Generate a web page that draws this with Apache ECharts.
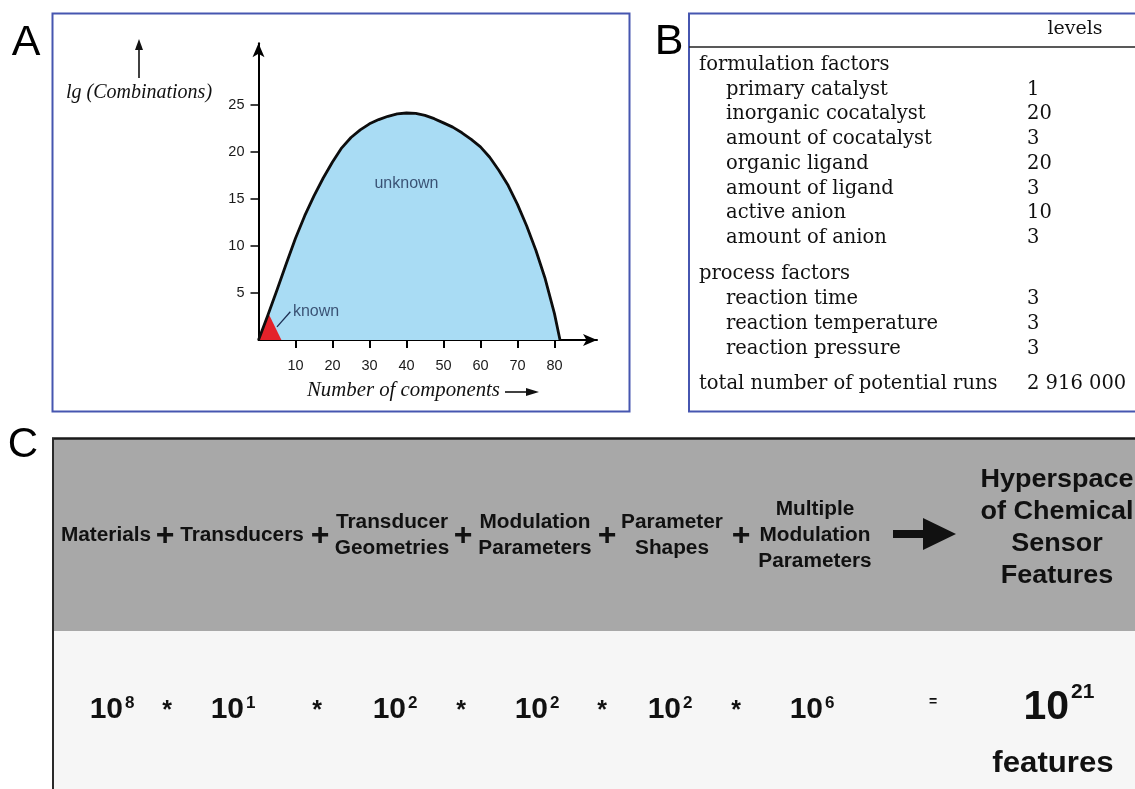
<!DOCTYPE html>
<html>
<head>
<meta charset="utf-8">
<title>Combinatorial search spaces</title>
<script src="https://cdn.jsdelivr.net/npm/echarts@6/dist/echarts.min.js"></script>
<style>
  html, body { margin: 0; padding: 0; background: #ffffff; }
  #main { width: 1135px; height: 789px; }
</style>
</head>
<body>
<div id="main"></div>
<script>
// ---- Panel A: lg(number of combinations) against number of components ----
const componentCounts = [0, 2.5, 5, 7.5, 10, 12.5, 15, 17.5, 20, 22.5, 25, 27.5, 30, 32.5, 35, 37.5, 40,
  42.5, 45, 47.5, 50, 52.5, 55, 57.5, 60, 62.5, 65, 67.5, 70, 72.5, 75, 77.5, 80, 81.5];
const lgCombinations  = [0, 2.6, 5.3, 8.1, 10.8, 13.2, 15.3, 17.2, 18.9, 20.4, 21.5, 22.3, 22.95, 23.4, 23.75, 24.0, 24.1,
  24.05, 23.85, 23.5, 23.05, 22.6, 22.0, 21.3, 20.5, 19.4, 18.0, 16.4, 14.4, 12.1, 9.5, 6.5, 2.8, 0];
const knownCounts = [0, 2.6, 6.2];
const knownLg     = [0, 2.9, 0];
const xTickValues = [10, 20, 30, 40, 50, 60, 70, 80];
const yTickValues = [5, 10, 15, 20, 25];
const regionNames = ['unknown', 'known'];
const regionAt    = [[40, 16.6], [9.3, 3.0]];
const knownLeader = [[5.0, 1.4], [8.6, 3.0]];

// ---- Panel B: factors of the screening design and their levels ----
const formulationFactors = ['primary catalyst', 'inorganic cocatalyst', 'amount of cocatalyst',
  'organic ligand', 'amount of ligand', 'active anion', 'amount of anion'];
const formulationLevels = [1, 20, 3, 20, 3, 10, 3];
const processFactors = ['reaction time', 'reaction temperature', 'reaction pressure'];
const processLevels  = [3, 3, 3];

// ---- Panel C: sources of sensor features and their orders of magnitude ----
const featureSources = [['Materials'], ['Transducers'], ['Transducer', 'Geometries'],
  ['Modulation', 'Parameters'], ['Parameter', 'Shapes'], ['Multiple', 'Modulation', 'Parameters']];
const sourceExponents = [8, 1, 2, 2, 2, 6];
const resultLines = ['Hyperspace', 'of Chemical', 'Sensor', 'Features'];
const resultUnit = 'features';

// ---------------------------------------------------------------------------
const SANS = '"Liberation Sans", Arial, Helvetica, sans-serif';
const SERIF = '"DejaVu Serif", "Liberation Serif", serif';
const TIMES = '"Liberation Serif", "Times New Roman", serif';
const BLUE_FRAME = '#4656b0';

const unknownData = componentCounts.map((c, i) => [c, lgCombinations[i]]);
const knownData = knownCounts.map((c, i) => [c, knownLg[i]]);

function txt(x, y, text, o) {
  o = o || {};
  return {
    type: 'text', x: x, y: y, z: o.z || 10,
    scaleX: o.scaleX || 1, scaleY: 1,
    style: {
      text: String(text),
      fill: o.fill || '#111',
      fontSize: o.size || 14,
      fontFamily: o.family || SANS,
      fontWeight: o.weight || 'normal',
      fontStyle: o.style || 'normal',
      align: o.align || 'left', textAlign: o.align || 'left',
      verticalAlign: 'middle', textVerticalAlign: 'middle',
      width: o.width, overflow: o.overflow, ellipsis: o.ellipsis
    }
  };
}
function seg(x1, y1, x2, y2, w, color, z) {
  return { type: 'line', z: z || 5, shape: { x1: x1, y1: y1, x2: x2, y2: y2 },
    style: { stroke: color || '#000', lineWidth: w || 1 } };
}
function poly(points, color, z) {
  return { type: 'polygon', z: z || 6, shape: { points: points }, style: { fill: color || '#000' } };
}
function box(x, y, w, h, style, z) {
  return { type: 'rect', z: z || 1, shape: { x: x, y: y, width: w, height: h }, style: style };
}

const g = [];

// Frames and panel letters
g.push(box(52.5, 13.5, 577, 398, { fill: 'none', stroke: BLUE_FRAME, lineWidth: 2 }, 2));
g.push(box(689, 13.5, 470, 398, { fill: 'none', stroke: BLUE_FRAME, lineWidth: 2 }, 2));
g.push(txt(26, 43, 'A', { size: 43, align: 'center', fill: '#000' }));
g.push(txt(669, 42, 'B', { size: 43, align: 'center', fill: '#000' }));
g.push(txt(23, 445, 'C', { size: 42, align: 'center', fill: '#000' }));

// Panel A axis titles with their arrows
g.push(txt(139, 93, 'lg (Combinations)', { size: 20, family: TIMES, style: 'italic', align: 'center', fill: '#111' }));
g.push(seg(139, 78, 139, 48, 1.6, '#111'));
g.push(poly([[135, 50], [139, 39], [143, 50]], '#111'));
g.push(txt(307, 391, 'Number of components', { size: 20.8, family: TIMES, style: 'italic', fill: '#111' }));
g.push(seg(505, 392, 528, 392, 1.6, '#111'));
g.push(poly([[526, 388], [539, 392], [526, 396]], '#111'));

// Panel B table
const FS_B = 19.5;
const rowH = 24.7;
g.push(txt(1075, 29, 'levels', { size: 19, family: SERIF, align: 'center', fill: '#111' }));
g.push(seg(689, 47, 1135, 47, 1.6, '#222'));
let rowY = 65;
g.push(txt(699, rowY, 'formulation factors', { size: FS_B, family: SERIF }));
formulationFactors.forEach((f, i) => {
  rowY += rowH;
  g.push(txt(726, rowY, f, { size: FS_B, family: SERIF }));
  g.push(txt(1027, rowY, formulationLevels[i], { size: FS_B, family: SERIF }));
});
rowY += 36.5;
g.push(txt(699, rowY, 'process factors', { size: FS_B, family: SERIF }));
processFactors.forEach((f, i) => {
  rowY += rowH;
  g.push(txt(726, rowY, f, { size: FS_B, family: SERIF }));
  g.push(txt(1027, rowY, processLevels[i], { size: FS_B, family: SERIF }));
});
rowY += 35.5;
const totalRuns = formulationLevels.concat(processLevels).reduce((a, b) => a * b, 1);
const totalText = String(totalRuns).replace(/\B(?=(\d{3})+(?!\d))/g, ' ');
g.push(txt(699, rowY, 'total number of potential runs', { size: FS_B, family: SERIF, width: 301, overflow: 'truncate', ellipsis: '' }));
g.push(txt(1027, rowY, totalText, { size: FS_B, family: SERIF }));

// Panel C background bands and frame
g.push(box(53, 439, 1082, 192, { fill: '#a8a8a8' }, 1));
g.push(box(53, 631, 1082, 158, { fill: '#f6f6f6' }, 1));
g.push(seg(52, 438.5, 1135, 438.5, 2.5, '#1a1a1a', 3));
g.push(seg(53, 438, 53, 789, 2, '#2a2a2a', 3));

// Panel C: sum of feature sources
const sourceCenters = [106, 242, 392, 535, 672, 815];
const plusX = [165, 320, 463, 607, 741];
const lineGap = 26;
featureSources.forEach((lines, i) => {
  const y0 = 535 - (lines.length - 1) * lineGap / 2;
  lines.forEach((l, k) => {
    g.push(txt(sourceCenters[i], y0 + k * lineGap, l, { size: 20, weight: 'bold', align: 'center', scaleX: 1.04 }));
  });
});
plusX.forEach(x => g.push(txt(x, 536, '+', { size: 32, weight: 'bold', align: 'center' })));
g.push(poly([[893, 530], [923, 530], [923, 518], [956, 534], [923, 550], [923, 538], [893, 538]], '#111'));
resultLines.forEach((l, k) => {
  g.push(txt(1057, 480 + k * 32, l, { size: 25, weight: 'bold', align: 'center', scaleX: 1.08 }));
});

// Panel C: product of orders of magnitude
const termCenters = [112, 233, 395, 537, 670, 812];
const starX = [167, 317, 461, 602, 736];
sourceExponents.forEach((e, i) => {
  g.push(txt(termCenters[i] + 11, 710, '10', { size: 30, weight: 'bold', align: 'right' }));
  g.push(txt(termCenters[i] + 13, 703, e, { size: 17, weight: 'bold', align: 'left' }));
});
starX.forEach(x => g.push(txt(x, 711, '*', { size: 25, weight: 'bold', align: 'center' })));
g.push(txt(933, 702, '=', { size: 14, weight: 'bold', align: 'center' }));
const totalExponent = sourceExponents.reduce((a, b) => a + b, 0);
g.push(txt(1069, 708, '10', { size: 41, weight: 'bold', align: 'right' }));
g.push(txt(1071, 692, totalExponent, { size: 21, weight: 'bold', align: 'left' }));
g.push(txt(1053, 764, resultUnit, { size: 30, weight: 'bold', align: 'center', scaleX: 1.04 }));

const axisFont = { fontFamily: SANS, fontSize: 14.5, color: '#1a1a1a' };

// plot box: x 0..91.5 at 3.7 px per component, y 0..31.5 at 9.42 px per decade
const option = {
  animation: false,
  backgroundColor: '#ffffff',
  grid: { left: 258.5, top: 43.3, width: 338.5, height: 296.7, outerBoundsMode: 'none' },
  xAxis: {
    type: 'value', min: 0, max: 91.5,
    axisLine: { show: true, onZero: true, symbol: ['none', 'arrow'], symbolSize: [9, 14],
      lineStyle: { color: '#000', width: 2 } },
    axisTick: { show: true, length: 8, customValues: xTickValues, lineStyle: { color: '#000', width: 2 } },
    axisLabel: Object.assign({ margin: 18, customValues: xTickValues }, axisFont),
    splitLine: { show: false }
  },
  yAxis: {
    type: 'value', min: 0, max: 31.5,
    axisLine: { show: true, symbol: ['none', 'arrow'], symbolSize: [9, 14],
      lineStyle: { color: '#000', width: 2 } },
    axisTick: { show: true, length: 8, customValues: yTickValues, lineStyle: { color: '#000', width: 1.5 } },
    axisLabel: Object.assign({ margin: 14, customValues: yTickValues }, axisFont),
    splitLine: { show: false }
  },
  series: [
    {
      name: 'unknown area', type: 'line', data: unknownData, smooth: false,
      symbol: 'none', lineStyle: { width: 0 }, z: 1,
      areaStyle: { color: '#a9dcf4', opacity: 1, origin: 'start' }, silent: true
    },
    {
      name: 'known', type: 'line', data: knownData, smooth: false,
      symbol: 'none', lineStyle: { width: 0 }, z: 2,
      areaStyle: { color: '#e3222a', opacity: 1, origin: 'start' }, silent: true
    },
    {
      name: 'boundary', type: 'line', data: unknownData, smooth: false,
      symbol: 'none', z: 3, lineStyle: { color: '#0d0d0d', width: 2.8, join: 'round' }, silent: true
    },
    {
      name: 'leader', type: 'line', data: knownLeader, symbol: 'none', z: 4,
      lineStyle: { color: '#1d2e52', width: 1.3 }, silent: true
    },
    {
      name: 'labels', type: 'scatter', z: 5, symbolSize: 1, silent: true,
      itemStyle: { color: 'rgba(0,0,0,0)' },
      data: regionNames.map((n, i) => ({
        name: n, value: regionAt[i],
        label: { align: n === 'known' ? 'left' : 'center' }
      })),
      label: { show: true, position: 'inside', formatter: '{b}', color: '#1d2e52',
        fontFamily: SANS, fontSize: 16 }
    }
  ],
  graphic: { elements: g }
};

const chart = echarts.init(document.getElementById('main'));
chart.setOption(option);
</script>
</body>
</html>
